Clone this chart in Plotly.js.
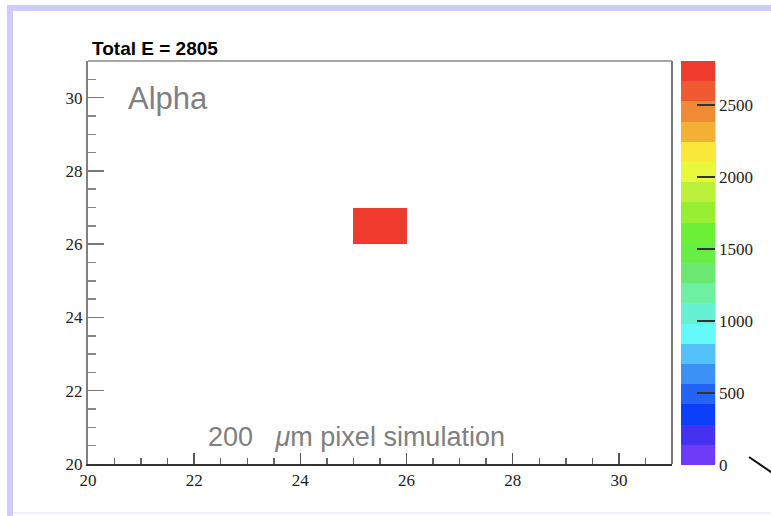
<!DOCTYPE html>
<html>
<head>
<meta charset="utf-8">
<script src="https://cdn.plot.ly/plotly-3.0.1.min.js"></script>
<style>
  html, body { margin: 0; padding: 0; background: #ffffff; }
  #chart { width: 771px; height: 516px; }
</style>
</head>
<body>
<div id="chart"></div>
<script>
// Hit pixels: lower-left corner of each fired pixel and its deposited energy
const pixelX = [25];
const pixelY = [26];
const pixelE = [2805];
const pixelPitch = 1;

// Histogram range
const axisMin = 20;
const axisMax = 31;

// Colour axis ticks
const zTicks = [0, 500, 1000, 1500, 2000, 2500];

// Palette steps, low to high (20 contour levels)
const paletteSteps = [
  '#6e3cf6', '#4432f0', '#0c40f8', '#2264f6', '#3c92f4',
  '#52c2f8', '#64fafa', '#68f0d2', '#6cf0a2', '#6ae872',
  '#66ee44', '#6cf036', '#98ee32', '#bcf03a', '#e8f83c',
  '#fae83a', '#f4b034', '#f08a34', '#ef5a30', '#ee3b2e'
];

// Build the 2D histogram grid (empty bins stay null and are not drawn)
const edges = [];
for (let v = axisMin; v <= axisMax; v += pixelPitch) edges.push(v);
const z = [];
for (let j = 0; j < edges.length - 1; j++) {
  const row = [];
  for (let i = 0; i < edges.length - 1; i++) row.push(null);
  z.push(row);
}
pixelX.forEach((px, k) => {
  const i = Math.round((px - axisMin) / pixelPitch);
  const j = Math.round((pixelY[k] - axisMin) / pixelPitch);
  z[j][i] = pixelE[k];
});
const totalE = pixelE.reduce((a, b) => a + b, 0);

// Stepped colour scale
const colorscale = [];
paletteSteps.forEach((c, i) => {
  colorscale.push([i / paletteSteps.length, c]);
  colorscale.push([(i + 1) / paletteSteps.length, c]);
});

const W = 771, H = 516;
const M = { l: 88, r: 99, t: 61, b: 52, autoexpand: false };
const pw = W - M.l - M.r, ph = H - M.t - M.b;
const px = v => (v - M.l) / pw;          // pixel -> paper x
const py = v => (H - M.b - v) / ph;      // pixel -> paper y

const serif = 'Liberation Serif, Times New Roman, serif';
const sans = 'Liberation Sans, Arial, Helvetica, sans-serif';

const trace = {
  type: 'heatmap',
  x: edges,
  y: edges,
  z: z,
  zmin: 0,
  zmax: totalE,
  zsmooth: false,
  colorscale: colorscale,
  hoverongaps: false,
  colorbar: {
    x: px(681), xanchor: 'left', xpad: 0,
    y: 1, yanchor: 'top', ypad: 0,
    len: ph + 1, lenmode: 'pixels',
    thickness: 34, thicknessmode: 'pixels',
    outlinewidth: 0,
    tickmode: 'array', tickvals: zTicks,
    ticks: 'inside', ticklen: 18, tickwidth: 1.5, tickcolor: '#333',
    tickfont: { family: serif, size: 17, color: '#222' }
  }
};

const axisCommon = {
  range: [axisMin, axisMax],
  tickmode: 'linear', tick0: 20, dtick: 2,
  ticks: 'inside',
  showgrid: false, zeroline: false,
  showline: true,
  tickfont: { family: serif, size: 17, color: '#222' }
};

const layout = {
  width: W, height: H,
  margin: M,
  paper_bgcolor: '#ffffff',
  plot_bgcolor: '#ffffff',
  showlegend: false,
  title: {
    text: '<b>Total E = ' + totalE + '</b>',
    x: 92 / W, xanchor: 'left', xref: 'container',
    y: 1 - 48 / H, yanchor: 'middle', yref: 'container',
    font: { family: sans, size: 19, color: '#000' }
  },
  xaxis: Object.assign({}, axisCommon, {
    linecolor: '#333', linewidth: 2,
    ticklen: 11, tickwidth: 1.5, tickcolor: '#555',
    minor: { dtick: 0.5, ticks: 'inside', ticklen: 6, tickwidth: 1.5, tickcolor: '#666', showgrid: false }
  }),
  yaxis: Object.assign({}, axisCommon, {
    linecolor: '#808080', linewidth: 2,
    ticklen: 16, tickwidth: 1.5, tickcolor: '#777',
    minor: { dtick: 0.5, ticks: 'inside', ticklen: 8, tickwidth: 1.5, tickcolor: '#888', showgrid: false }
  }),
  annotations: [
    {
      text: 'Alpha', xref: 'paper', yref: 'paper',
      x: px(126), xanchor: 'left', y: py(98), yanchor: 'middle',
      showarrow: false,
      font: { family: sans, size: 31, color: '#808080' }
    },
    {
      text: '200 &nbsp;&nbsp;<i>μ</i>m pixel simulation', xref: 'paper', yref: 'paper',
      x: px(206), xanchor: 'left', y: py(437), yanchor: 'middle',
      showarrow: false,
      font: { family: sans, size: 27, color: '#808080' }
    }
  ],
  shapes: [
    // frame top and right
    { type: 'line', xref: 'paper', yref: 'paper', x0: 0, x1: 1, y0: 1, y1: 1, line: { color: '#8a8a8a', width: 1.5 } },
    { type: 'line', xref: 'paper', yref: 'paper', x0: 1, x1: 1, y0: 0, y1: 1, line: { color: '#777', width: 2 } },
    // colour bar right edge
    { type: 'line', xref: 'paper', yref: 'paper', x0: px(715), x1: px(715), y0: 0, y1: 1, line: { color: '#bbb', width: 1 } },
    // canvas border
    { type: 'rect', xref: 'paper', yref: 'paper', x0: px(7), x1: px(775), y0: py(11), y1: py(5), line: { width: 0 }, fillcolor: '#ccccff' },
    { type: 'rect', xref: 'paper', yref: 'paper', x0: px(7), x1: px(13), y0: py(520), y1: py(5), line: { width: 0 }, fillcolor: '#ccccff' },
    { type: 'line', xref: 'paper', yref: 'paper', x0: px(13), x1: px(775), y0: py(513), y1: py(513), line: { color: '#ececf8', width: 1.5 } },
    // stray palette-axis stroke
    { type: 'line', xref: 'paper', yref: 'paper', x0: px(749), x1: px(774), y0: py(457), y1: py(474), line: { color: '#111', width: 2 } }
  ]
};

Plotly.newPlot('chart', [trace], layout, { displayModeBar: false, staticPlot: true });
</script>
</body>
</html>
